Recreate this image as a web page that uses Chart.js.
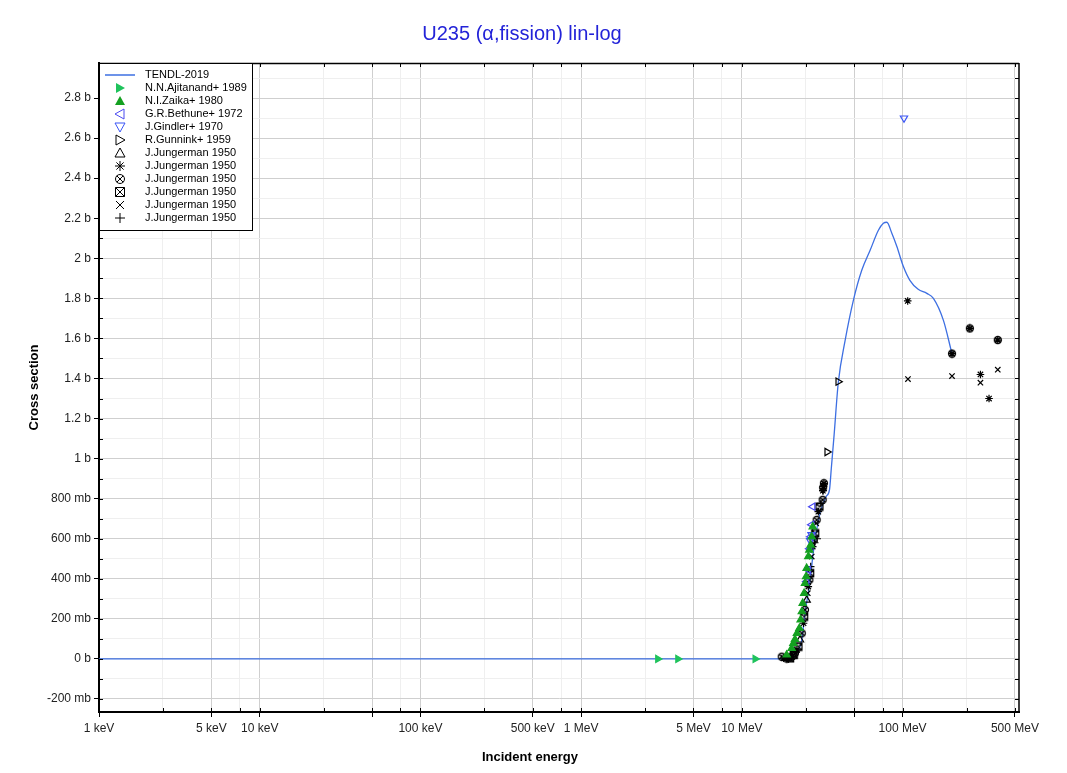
<!DOCTYPE html>
<html>
<head>
<meta charset="utf-8">
<script src="https://cdn.jsdelivr.net/npm/chart.js@4.4.0/dist/chart.umd.min.js"></script>
<style>
  body { margin: 0; background: #fff; }
  #wrap { width: 1060px; height: 773px; }
</style>
</head>
<body>
<div id="wrap"><canvas id="xsChart" width="1060" height="773"></canvas></div>
<script>
// energies in MeV, cross sections in barns
const tendlE  = [0.001, 17.3, 18.6, 19.95, 20.9, 22.5, 23.6, 24.7, 26.6, 27.6, 29.0, 30.7, 33.4, 35.1, 36.0, 37.5, 39.8, 43.9, 49.4, 55.7, 62.8, 70.7, 75.9, 79.8, 85.7, 92.0, 101, 111, 125, 141.5, 155.5, 179.5, 202];
const tendlXS = [0, 0, 0.002, 0.01, 0.02, 0.045, 0.095, 0.23, 0.39, 0.51, 0.63, 0.73, 0.81, 0.845, 0.95, 1.12, 1.38, 1.59, 1.79, 1.94, 2.04, 2.14, 2.175, 2.18, 2.125, 2.06, 1.96, 1.89, 1.845, 1.825, 1.80, 1.69, 1.53];

const ajitanandE  = [3.0, 4.0, 12.1];
const ajitanandXS = [0, 0, 0];

const zaikaE  = [19.0, 20.4, 20.9, 21.4, 22.0, 22.8, 23.2, 23.6, 23.9, 24.4, 24.7, 25.1, 25.3, 25.9, 26.3, 26.8, 27.2, 27.6];
const zaikaXS = [0.02, 0.053, 0.078, 0.098, 0.128, 0.153, 0.195, 0.236, 0.278, 0.328, 0.378, 0.411, 0.453, 0.511, 0.544, 0.569, 0.61, 0.66];

const bethuneE  = [25.3, 25.9, 26.4, 26.8, 27.2, 27.6];
const bethuneXS = [0.386, 0.444, 0.55, 0.61, 0.67, 0.76];

const gindlerE  = [26.6, 27.1, 102];
const gindlerXS = [0.59, 0.62, 2.70];

const gunninkE  = [33.9, 39.7];
const gunninkXS = [1.033, 1.384];

const jungTriE  = [18.6, 20.9, 23.0, 25.3];
const jungTriXS = [0.003, 0.015, 0.095, 0.294];

const jungStarE  = [18.2, 19.5, 20.4, 22.0, 24.2, 25.9, 27.6, 29.9, 31.9, 32.2, 32.4, 107.6, 203, 262, 305, 345, 391];
const jungStarXS = [0.004, 0.0, 0.01, 0.045, 0.178, 0.361, 0.561, 0.735, 0.84, 0.86, 0.875, 1.787, 1.524, 1.65, 1.42, 1.30, 1.592];

const jungCircE  = [17.7, 19.0, 20.0, 21.4, 23.6, 24.7, 26.3, 27.9, 29.2, 31.8, 32.0, 32.4, 203, 391, 262];
const jungCircXS = [0.011, 0.002, 0.008, 0.028, 0.128, 0.245, 0.394, 0.594, 0.694, 0.794, 0.855, 0.877, 1.524, 1.592, 1.65];

const jungBoxE  = [19.95, 21.0, 22.5, 24.4, 26.6, 28.6, 30.4];
const jungBoxXS = [0.003, 0.02, 0.061, 0.211, 0.428, 0.627, 0.76];

const jungXE  = [20.6, 25.7, 27.2, 29.0, 108, 203, 305, 391];
const jungXXS = [0.01, 0.328, 0.511, 0.677, 1.397, 1.412, 1.379, 1.444];

const jungPlusE  = [21.8, 26.8, 27.5, 28.4, 29.4, 31.0, 32.0];
const jungPlusXS = [0.035, 0.461, 0.63, 0.58, 0.60, 0.777, 0.84];

// axis ticks
const xTickVals = [0.001, 0.0025, 0.005, 0.0075, 0.01, 0.025, 0.05, 0.075, 0.1, 0.25, 0.5, 0.75,
                   1, 2.5, 5, 7.5, 10, 25, 50, 75, 100, 250, 500];
const xLabelVals = [0.001, 0.005, 0.01, 0.1, 0.5, 1, 5, 10, 100, 500];
const xLabelText = ['1 keV', '5 keV', '10 keV', '100 keV', '500 keV', '1 MeV', '5 MeV', '10 MeV', '100 MeV', '500 MeV'];
const yTickVals = [-0.2, -0.1, 0, 0.1, 0.2, 0.3, 0.4, 0.5, 0.6, 0.7, 0.8, 0.9, 1, 1.1, 1.2, 1.3, 1.4,
                   1.5, 1.6, 1.7, 1.8, 1.9, 2, 2.1, 2.2, 2.3, 2.4, 2.5, 2.6, 2.7, 2.8, 2.9];

const FONT = 'Liberation Sans, Arial, sans-serif';
Chart.defaults.font.family = FONT;

function xMajor(v) {
  const m = v / Math.pow(10, Math.floor(Math.log10(v) + 1e-9));
  return Math.abs(m - 1) < 1e-6 || Math.abs(m - 5) < 1e-6;
}
function yMajor(v) { return Math.round(v * 10) % 2 === 0; }
function fmtXS(v) {
  if (Math.abs(v) < 1e-9) return '0 b';
  if (Math.abs(v) >= 1) return (+v.toFixed(1)) + ' b';
  return Math.round(v * 1000) + ' mb';
}

// marker drawn on a small canvas (legend, and the two shapes chart.js lacks)
function makeMarker(kind, color, size, filled, lw) {
  const c = document.createElement('canvas');
  const s = size + 2;
  c.width = s; c.height = s;
  const g = c.getContext('2d');
  const m = s / 2, r = size / 2;
  g.strokeStyle = color; g.fillStyle = color; g.lineWidth = lw || 1;
  g.beginPath();
  if (kind.startsWith('tri')) {
    let pts;
    if (kind === 'tri-up') pts = [[m, m - r], [m + r, m + r * 0.8], [m - r, m + r * 0.8]];
    if (kind === 'tri-down') pts = [[m, m + r], [m + r, m - r * 0.8], [m - r, m - r * 0.8]];
    if (kind === 'tri-right') pts = [[m + r, m], [m - r * 0.8, m - r], [m - r * 0.8, m + r]];
    if (kind === 'tri-left') pts = [[m - r, m], [m + r * 0.8, m - r], [m + r * 0.8, m + r]];
    g.moveTo(pts[0][0], pts[0][1]);
    g.lineTo(pts[1][0], pts[1][1]);
    g.lineTo(pts[2][0], pts[2][1]);
    g.closePath();
    if (filled) g.fill(); else g.stroke();
  } else if (kind === 'star') {
    const d = r * 0.72;
    g.moveTo(m, m - r); g.lineTo(m, m + r);
    g.moveTo(m - r, m); g.lineTo(m + r, m);
    g.moveTo(m - d, m - d); g.lineTo(m + d, m + d);
    g.moveTo(m - d, m + d); g.lineTo(m + d, m - d);
    g.stroke();
  } else if (kind === 'circx') {
    g.arc(m, m, r - 0.5, 0, Math.PI * 2);
    const d = (r - 0.5) * 0.72;
    g.moveTo(m - d, m - d); g.lineTo(m + d, m + d);
    g.moveTo(m - d, m + d); g.lineTo(m + d, m - d);
    g.stroke();
  } else if (kind === 'boxx') {
    g.rect(m - r + 0.5, m - r + 0.5, size - 1, size - 1);
    g.moveTo(m - r + 0.5, m - r + 0.5); g.lineTo(m + r - 0.5, m + r - 0.5);
    g.moveTo(m - r + 0.5, m + r - 0.5); g.lineTo(m + r - 0.5, m - r + 0.5);
    g.stroke();
  } else if (kind === 'x') {
    const d = r * 0.8;
    g.moveTo(m - d, m - d); g.lineTo(m + d, m + d);
    g.moveTo(m - d, m + d); g.lineTo(m + d, m - d);
    g.stroke();
  } else if (kind === 'plus') {
    g.moveTo(m, m - r); g.lineTo(m, m + r);
    g.moveTo(m - r, m); g.lineTo(m + r, m);
    g.stroke();
  }
  return c;
}

function zip(E, XS) { return E.map((e, i) => ({ x: e, y: XS[i] })); }

// chart.js point style for each marker kind
const builtin = {
  'tri-up':    { style: 'triangle', rot: 0 },
  'tri-right': { style: 'triangle', rot: 90 },
  'tri-down':  { style: 'triangle', rot: 180 },
  'tri-left':  { style: 'triangle', rot: 270 },
  'star':      { style: 'star', rot: 0 },
  'x':         { style: 'crossRot', rot: 0 },
  'plus':      { style: 'cross', rot: 0 }
};

function scatterSet(label, E, XS, kind, color, filled) {
  const b = builtin[kind];
  return {
    label: label,
    data: zip(E, XS),
    showLine: false,
    order: 0,
    pointStyle: b ? b.style : makeMarker(kind, color, 8, false, 1.3),
    rotation: b ? b.rot : 0,
    pointRadius: kind.startsWith('tri') ? 4.2 : 3.8,
    pointBorderWidth: 1.2,
    pointBorderColor: color,
    pointBackgroundColor: filled ? color : 'rgba(0,0,0,0)',
    legendMarker: makeMarker(kind, color, 10, filled, 1)
  };
}

const datasets = [
  {
    label: 'TENDL-2019',
    data: zip(tendlE, tendlXS),
    showLine: true,
    order: 1,
    borderColor: '#3d6fe2',
    borderWidth: 1.3,
    pointRadius: 0,
    cubicInterpolationMode: 'monotone'
  },
  scatterSet('N.N.Ajitanand+ 1989', ajitanandE, ajitanandXS, 'tri-right', '#1fc35c', true),
  scatterSet('N.I.Zaika+ 1980', zaikaE, zaikaXS, 'tri-up', '#14a020', true),
  scatterSet('G.R.Bethune+ 1972', bethuneE, bethuneXS, 'tri-left', '#4a4af0', false),
  scatterSet('J.Gindler+ 1970', gindlerE, gindlerXS, 'tri-down', '#3a55f5', false),
  scatterSet('R.Gunnink+ 1959', gunninkE, gunninkXS, 'tri-right', '#000', false),
  scatterSet('J.Jungerman 1950', jungTriE, jungTriXS, 'tri-up', '#000', false),
  scatterSet('J.Jungerman 1950', jungStarE, jungStarXS, 'star', '#000', false),
  scatterSet('J.Jungerman 1950', jungCircE, jungCircXS, 'circx', '#000', false),
  scatterSet('J.Jungerman 1950', jungBoxE, jungBoxXS, 'boxx', '#000', false),
  scatterSet('J.Jungerman 1950', jungXE, jungXXS, 'x', '#000', false),
  scatterSet('J.Jungerman 1950', jungPlusE, jungPlusXS, 'plus', '#000', false)
];

// frame, inner ticks, axis titles and the boxed legend
const decorations = {
  id: 'decorations',
  afterDraw(chart) {
    const ctx = chart.ctx, a = chart.chartArea;
    const xs = chart.scales.x, ys = chart.scales.y;
    ctx.save();
    ctx.strokeStyle = '#000';
    ctx.lineWidth = 1;
    ctx.beginPath();
    xTickVals.forEach(v => {
      const px = Math.round(xs.getPixelForValue(v)) + 0.5;
      ctx.moveTo(px, a.bottom); ctx.lineTo(px, a.bottom - 4);
      ctx.moveTo(px, a.top); ctx.lineTo(px, a.top + 4);
    });
    yTickVals.forEach(v => {
      const py = Math.round(ys.getPixelForValue(v)) + 0.5;
      ctx.moveTo(a.left, py); ctx.lineTo(a.left + 4, py);
      ctx.moveTo(a.right, py); ctx.lineTo(a.right - 4, py);
    });
    ctx.stroke();
    ctx.lineWidth = 1.5;
    ctx.beginPath();
    ctx.moveTo(a.left, a.top + 0.5); ctx.lineTo(a.right, a.top + 0.5);
    ctx.moveTo(a.right, a.top); ctx.lineTo(a.right, a.bottom);
    ctx.stroke();

    // axis titles
    ctx.fillStyle = '#000';
    ctx.font = 'bold 13px ' + FONT;
    ctx.textAlign = 'center';
    ctx.textBaseline = 'middle';
    ctx.fillText('Incident energy', chart.width / 2, 757);
    ctx.save();
    ctx.translate(34, (a.top + a.bottom) / 2);
    ctx.rotate(-Math.PI / 2);
    ctx.fillText('Cross section', 0, 0);
    ctx.restore();

    // legend
    const lx = a.left, ly = a.top, lw = 153, rowH = 13;
    const lh = 12 + rowH * chart.data.datasets.length - 1;
    ctx.fillStyle = '#fff';
    ctx.fillRect(lx, ly, lw, lh);
    ctx.lineWidth = 1;
    ctx.strokeStyle = '#000';
    ctx.strokeRect(lx + 0.5, ly + 0.5, lw, lh);
    ctx.font = '11px ' + FONT;
    ctx.textAlign = 'left';
    chart.data.datasets.forEach((ds, i) => {
      const y = ly + 12 + rowH * i;
      if (ds.showLine) {
        ctx.strokeStyle = ds.borderColor;
        ctx.lineWidth = 1.5;
        ctx.beginPath();
        ctx.moveTo(lx + 6, y); ctx.lineTo(lx + 36, y);
        ctx.stroke();
      } else {
        const mk = ds.legendMarker;
        ctx.drawImage(mk, Math.round(lx + 21 - mk.width / 2), Math.round(y - mk.height / 2));
      }
      ctx.fillStyle = '#000';
      ctx.fillText(ds.label, lx + 46, y);
    });
    ctx.restore();
  }
};

new Chart(document.getElementById('xsChart').getContext('2d'), {
  type: 'scatter',
  data: { datasets: datasets },
  options: {
    responsive: false,
    animation: false,
    layout: { padding: { left: 25, right: 41, top: 0, bottom: 0 } },
    plugins: {
      legend: { display: false },
      tooltip: { enabled: false },
      title: {
        display: true,
        text: 'U235 (α,fission) lin-log',
        color: '#2323d8',
        font: { size: 20, weight: 'normal', family: FONT },
        padding: { top: 22, bottom: 17 }
      }
    },
    scales: {
      x: {
        type: 'logarithmic',
        min: 0.001,
        max: 530,
        afterBuildTicks: s => { s.ticks = xTickVals.map(v => ({ value: v })); },
        afterFit: s => { s.height = 61; },
        ticks: {
          autoSkip: false,
          maxRotation: 0,
          padding: 4,
          color: '#222',
          font: { size: 12 },
          callback: v => {
            const i = xLabelVals.findIndex(t => Math.abs(t - v) / t < 1e-6);
            return i >= 0 ? xLabelText[i] : '';
          }
        },
        grid: {
          color: c => (c.tick && xMajor(c.tick.value)) ? '#cfcfcf' : '#efefef',
          tickColor: c => (c.tick && xMajor(c.tick.value)) ? '#000' : 'transparent',
          tickLength: 5
        },
        border: { color: '#000', width: 2 }
      },
      y: {
        type: 'linear',
        min: -0.265,
        max: 2.975,
        afterBuildTicks: s => { s.ticks = yTickVals.map(v => ({ value: v })); },
        afterFit: s => { s.width = 74; },
        ticks: {
          autoSkip: false,
          padding: 3,
          color: '#222',
          font: { size: 12 },
          callback: v => yMajor(v) ? fmtXS(v) : ''
        },
        grid: {
          color: c => (c.tick && yMajor(c.tick.value)) ? '#cfcfcf' : '#efefef',
          tickColor: c => (c.tick && yMajor(c.tick.value)) ? '#000' : 'transparent',
          tickLength: 5
        },
        border: { color: '#000', width: 2 }
      }
    }
  },
  plugins: [decorations]
});
</script>
</body>
</html>
